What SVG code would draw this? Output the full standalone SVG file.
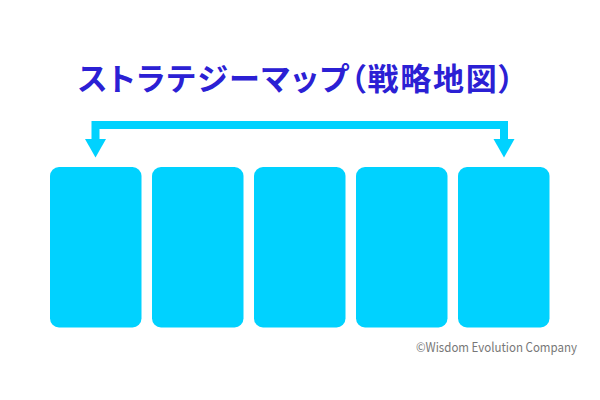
<svg xmlns="http://www.w3.org/2000/svg" width="600" height="400" viewBox="0 0 600 400">
<style>
.box{fill:#00d2ff}
.title{font-family:"Noto Sans CJK JP","Noto Sans CJK SC",sans-serif;font-weight:700;font-size:31px;fill:#2b20d4;font-feature-settings:"palt" 1;letter-spacing:1.8px}
.credit{font-family:"Noto Sans CJK JP","Noto Sans",sans-serif;font-size:13px;fill:#777}
.conn{fill:none;stroke:#00d2ff;stroke-width:8}
</style>
<rect width="600" height="400" fill="#fff"/>
<text class="title" x="78" y="90">ストラテジーマップ（戦略地図）</text>
<g id="connectors">
<path class="conn" d="M95.5,139 V125 H504 V139"/>
<polygon fill="#00d2ff" points="85,139 106,139 95.5,157.5"/>
<polygon fill="#00d2ff" points="493.5,139 514.5,139 504,157.5"/>
</g>
<g id="box1"><rect class="box" x="50" y="167" width="91.5" height="160.5" rx="9"/></g>
<g id="box2"><rect class="box" x="152" y="167" width="91.5" height="160.5" rx="9"/></g>
<g id="box3"><rect class="box" x="254" y="167" width="91.5" height="160.5" rx="9"/></g>
<g id="box4"><rect class="box" x="356" y="167" width="91.5" height="160.5" rx="9"/></g>
<g id="box5"><rect class="box" x="458" y="167" width="91.5" height="160.5" rx="9"/></g>
<text class="credit" x="416" y="352" textLength="161" lengthAdjust="spacingAndGlyphs">©Wisdom Evolution Company</text>
</svg>
